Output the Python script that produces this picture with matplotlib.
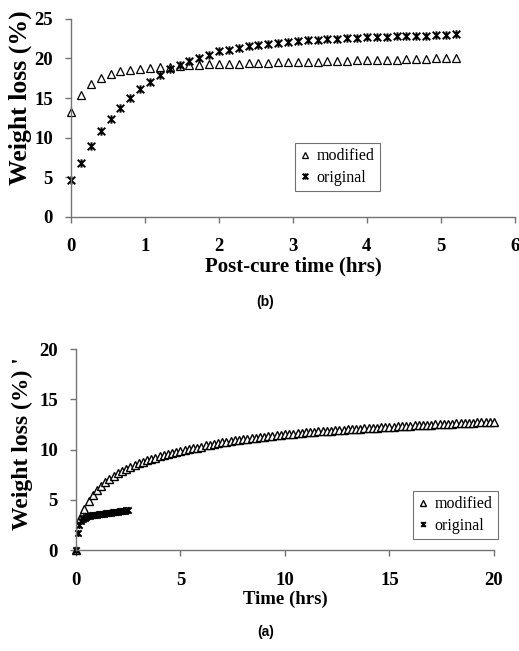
import numpy as np
import matplotlib
matplotlib.use('Agg')
import matplotlib.pyplot as plt
from matplotlib.path import Path

# ---- (b) post-cure, sampled every 8 min ----
post_time = np.arange(40) * 8 / 60.0
post_modified = [13.2, 15.4, 16.8, 17.5, 18.1, 18.4, 18.6, 18.7, 18.75, 18.95,
                 18.9, 19.1, 19.15, 19.2, 19.25, 19.3, 19.35, 19.35, 19.4, 19.4,
                 19.45, 19.5, 19.5, 19.55, 19.6, 19.6, 19.65, 19.7, 19.7, 19.75,
                 19.8, 19.8, 19.85, 19.85, 19.9, 19.9, 19.95, 20.0, 20.0, 20.05]
post_original = [4.7, 6.8, 9.0, 10.8, 12.3, 13.7, 15.0, 16.1, 17.05, 17.9,
                 18.7, 19.15, 19.7, 20.1, 20.5, 20.9, 21.1, 21.35, 21.55, 21.7,
                 21.85, 22.0, 22.1, 22.2, 22.3, 22.35, 22.45, 22.5, 22.55, 22.6,
                 22.65, 22.7, 22.75, 22.8, 22.85, 22.9, 22.9, 22.95, 23.0, 23.05]

# ---- (a) cure, modified every 12 min, original every 5 min ----
cure_time_mod = np.arange(101) * 12 / 60.0
cure_modified = [0.0, 3.2, 4.1, 4.9, 5.5, 6.0, 6.4, 6.8, 7.1, 7.4,
                 7.65, 7.9, 8.1, 8.3, 8.5, 8.65, 8.8, 8.95, 9.1, 9.2,
                 9.35, 9.45, 9.55, 9.65, 9.75, 9.85, 9.95, 10.05, 10.15, 10.2,
                 10.3, 10.4, 10.45, 10.55, 10.6, 10.7, 10.75, 10.8, 10.9, 10.95,
                 11.0, 11.05, 11.1, 11.15, 11.2, 11.25, 11.3, 11.35, 11.4, 11.45,
                 11.5, 11.55, 11.55, 11.6, 11.65, 11.7, 11.7, 11.75, 11.8, 11.8,
                 11.85, 11.85, 11.9, 11.95, 11.95, 12.0, 12.0, 12.05, 12.05, 12.1,
                 12.1, 12.15, 12.15, 12.2, 12.2, 12.25, 12.25, 12.3, 12.3, 12.35,
                 12.35, 12.4, 12.4, 12.4, 12.45, 12.45, 12.5, 12.5, 12.5, 12.55,
                 12.55, 12.6, 12.6, 12.6, 12.65, 12.65, 12.7, 12.7, 12.7, 12.75,
                 12.75]
cure_time_orig = np.arange(31) * 5 / 60.0
cure_original = [0.0, 1.7, 2.5, 2.9, 3.1, 3.2, 3.3, 3.35, 3.4, 3.45,
                 3.48, 3.5, 3.53, 3.56, 3.58, 3.6, 3.62, 3.65, 3.67, 3.7,
                 3.72, 3.74, 3.76, 3.79, 3.81, 3.84, 3.86, 3.88, 3.91, 3.94,
                 3.97]

# excel style "star" marker: an x with a vertical bar
star = Path([(-1, -1), (1, 1), (-1, 1), (1, -1), (0, -1.1), (0, 1.1)],
            [Path.MOVETO, Path.LINETO, Path.MOVETO, Path.LINETO, Path.MOVETO, Path.LINETO])

serif = 'Liberation Serif'
axcol = '0.45'

fig = plt.figure(figsize=(5.19, 6.51), dpi=100)


def style_axes(ax, xlabel, ylabel, xlim, ylim, xticks, yticks, xsize, ysize,
               xpad, ylab_pos):
    ax.set_xlim(*xlim)
    ax.set_ylim(*ylim)
    ax.set_xticks(xticks)
    ax.set_yticks(yticks)
    for s in ['top', 'right']:
        ax.spines[s].set_visible(False)
    for s in ['left', 'bottom']:
        ax.spines[s].set_color(axcol)
        ax.spines[s].set_linewidth(1.0)
    ax.tick_params(axis='both', direction='out', length=4, color=axcol, width=1)
    ax.tick_params(axis='y', pad=9)
    ax.tick_params(axis='x', pad=xpad)
    for lab in ax.get_xticklabels() + ax.get_yticklabels():
        lab.set_fontfamily(serif)
        lab.set_fontweight('bold')
        lab.set_fontsize(13.5)
    ax.set_xlabel(xlabel, fontfamily=serif, fontweight='bold', fontsize=xsize, labelpad=1)
    ax.set_ylabel(ylabel, fontfamily=serif, fontweight='bold', fontsize=ysize)
    ax.yaxis.set_label_coords(*ylab_pos)


def add_legend(ax, x, y):
    leg = ax.legend(loc='upper left', bbox_to_anchor=(x, y), frameon=True,
                    fancybox=False, edgecolor='0.3', handlelength=0.6, handletextpad=0.4,
                    borderpad=0.35, labelspacing=0.35, markerscale=0.75,
                    prop={'family': serif, 'size': 11.5})
    leg.get_frame().set_linewidth(0.8)
    return leg


# top panel (b)
ax1 = fig.add_axes([0.137, 0.667, 0.855, 0.304])
ax1.plot(post_time, post_modified, ls='None', marker='^', ms=6, mfc='white',
         mec='black', mew=0.9, label='modified', clip_on=False)
ax1.plot(post_time, post_original, ls='None', marker=star, ms=6, mfc='none',
         mec='black', mew=1.4, label='original', clip_on=False)
style_axes(ax1, 'Post-cure time (hrs)', 'Weight loss (%)', (0, 6), (0, 25),
           range(0, 7), range(0, 26, 5), 15, 18.5, 11, (-0.088, 0.6))
add_legend(ax1, 0.486, 0.415)
fig.text(0.511, 0.536, '(b)', ha='center', va='center', fontsize=10,
         fontweight='bold', fontfamily='Liberation Sans')

# bottom panel (a)
ax2 = fig.add_axes([0.1464, 0.1551, 0.8054, 0.3088])
ax2.plot(cure_time_mod, cure_modified, ls='None', marker='^', ms=5.5, mfc='white',
         mec='black', mew=1.0, label='modified', clip_on=False)
ax2.plot(cure_time_orig, cure_original, ls='None', marker=star, ms=5, mfc='none',
         mec='black', mew=1.4, label='original', clip_on=False)
style_axes(ax2, 'Time (hrs)', "Weight loss (%) '", (0, 20), (0, 20),
           range(0, 21, 5), range(0, 21, 5), 13.5, 17, 12, (-0.103, 0.53))
add_legend(ax2, 0.787, 0.335)
fig.text(0.511, 0.029, '(a)', ha='center', va='center', fontsize=10,
         fontweight='bold', fontfamily='Liberation Sans')

fig.savefig('out.png', dpi=100)
